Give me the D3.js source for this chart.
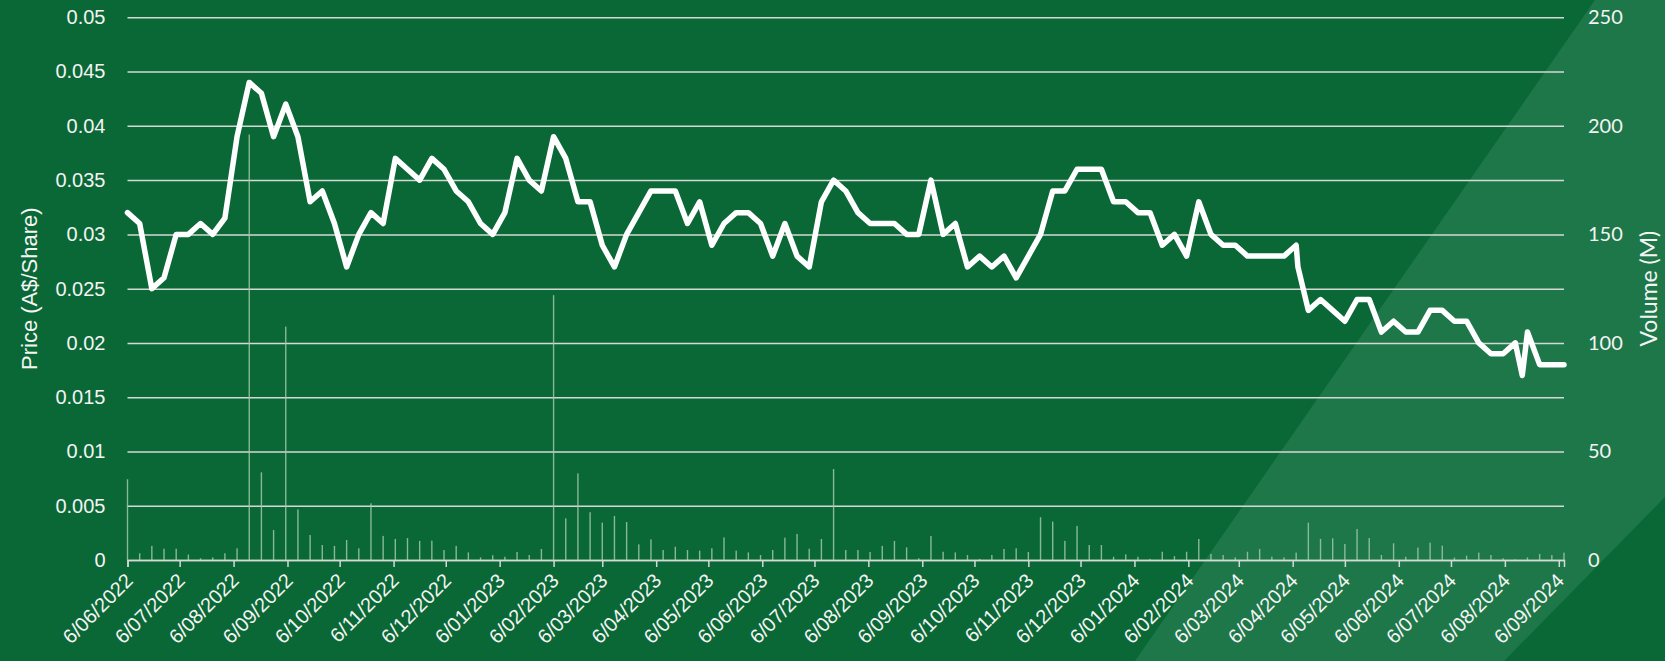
<!DOCTYPE html>
<html>
<head>
<meta charset="utf-8">
<script src="https://cdn.jsdelivr.net/npm/d3@7"></script>
<style>
  body { margin: 0; background: #0a6836; }
  svg { display: block; }
</style>
</head>
<body>
<svg id="chart" width="1665" height="661"></svg>
<script>
// weekly closes, plus two intra-week points (2024-04-09, 2024-08-16)
const dates = [
  "2022-06-06","2022-06-13","2022-06-20","2022-06-27","2022-07-04","2022-07-11","2022-07-18","2022-07-25",
  "2022-08-01","2022-08-08","2022-08-15","2022-08-22","2022-08-29","2022-09-05","2022-09-12","2022-09-19",
  "2022-09-26","2022-10-03","2022-10-10","2022-10-17","2022-10-24","2022-10-31","2022-11-07","2022-11-14",
  "2022-11-21","2022-11-28","2022-12-05","2022-12-12","2022-12-19","2022-12-26","2023-01-02","2023-01-09",
  "2023-01-16","2023-01-23","2023-01-30","2023-02-06","2023-02-13","2023-02-20","2023-02-27","2023-03-06",
  "2023-03-13","2023-03-20","2023-03-27","2023-04-03","2023-04-10","2023-04-17","2023-04-24","2023-05-01",
  "2023-05-08","2023-05-15","2023-05-22","2023-05-29","2023-06-05","2023-06-12","2023-06-19","2023-06-26",
  "2023-07-03","2023-07-10","2023-07-17","2023-07-24","2023-07-31","2023-08-07","2023-08-14","2023-08-21",
  "2023-08-28","2023-09-04","2023-09-11","2023-09-18","2023-09-25","2023-10-02","2023-10-09","2023-10-16",
  "2023-10-23","2023-10-30","2023-11-06","2023-11-13","2023-11-20","2023-11-27","2023-12-04","2023-12-11",
  "2023-12-18","2023-12-25","2024-01-01","2024-01-08","2024-01-15","2024-01-22","2024-01-29","2024-02-05",
  "2024-02-12","2024-02-19","2024-02-26","2024-03-04","2024-03-11","2024-03-18","2024-03-25","2024-04-01",
  "2024-04-08","2024-04-09","2024-04-15","2024-04-22","2024-04-29","2024-05-06","2024-05-13","2024-05-20",
  "2024-05-27","2024-06-03","2024-06-10","2024-06-17","2024-06-24","2024-07-01","2024-07-08","2024-07-15",
  "2024-07-22","2024-07-29","2024-08-05","2024-08-12","2024-08-16","2024-08-19","2024-08-26","2024-09-02",
  "2024-09-09"
];

const prices = [
  0.032,0.031,0.025,0.026,0.030,0.030,0.031,0.030,
  0.0315,0.039,0.044,0.043,0.039,0.042,0.039,0.033,
  0.034,0.031,0.027,0.030,0.032,0.031,0.037,0.036,
  0.035,0.037,0.036,0.034,0.033,0.031,0.030,0.032,
  0.037,0.035,0.034,0.039,0.037,0.033,0.033,0.029,
  0.027,0.030,0.032,0.034,0.034,0.034,0.031,0.033,
  0.029,0.031,0.032,0.032,0.031,0.028,0.031,0.028,
  0.027,0.033,0.035,0.034,0.032,0.031,0.031,0.031,
  0.030,0.030,0.035,0.030,0.031,0.027,0.028,0.027,
  0.028,0.026,0.028,0.030,0.034,0.034,0.036,0.036,
  0.036,0.033,0.033,0.032,0.032,0.029,0.030,0.028,
  0.033,0.030,0.029,0.029,0.028,0.028,0.028,0.028,
  0.029,0.027,0.023,0.024,0.023,0.022,0.024,0.024,
  0.021,0.022,0.021,0.021,0.023,0.023,0.022,0.022,
  0.020,0.019,0.019,0.020,0.017,0.021,0.018,0.018,
  0.018
];

// volume in millions of shares
const volumes = [
  37.2,3.1,6.5,5.2,5.2,2.5,0.8,1.2,
  3.1,5.4,196,40.4,13.8,107.5,23.3,11.5,
  6.9,6.5,9.2,5.4,26.1,11.1,9.7,10.1,
  8.8,8.9,4.6,6.5,3.5,1.2,2.2,1.5,
  3.7,2.3,5.1,122,19.2,39.9,22.0,17.2,
  20.3,17.5,7.2,9.5,4.6,6.1,4.6,4.3,
  5.4,10.4,4.3,3.5,2.3,4.6,10.3,12.0,
  5.2,9.7,41.9,4.6,4.6,3.7,6.5,8.8,
  5.8,0.8,11.1,3.8,3.5,2.3,0.5,2.3,
  5.1,5.4,3.7,19.7,17.7,8.8,15.7,6.9,
  6.9,1.5,2.6,1.5,0.5,3.8,1.8,3.8,
  9.7,2.8,2.3,1.2,3.8,5.1,1.5,1.2,
  3.4,0,17.2,9.7,10.0,7.4,14.3,10.1,
  2.3,7.7,1.5,5.7,8.0,6.6,1.1,2.0,
  3.4,2.3,0.8,0.3,0,1.2,2.8,2.3,
  3.4
];

const priceTicks = [0, 0.005, 0.01, 0.015, 0.02, 0.025, 0.03, 0.035, 0.04, 0.045, 0.05];
const volumeTicks = [0, 50, 100, 150, 200, 250];
const dateTickLabels = [
  "6/06/2022","6/07/2022","6/08/2022","6/09/2022","6/10/2022","6/11/2022","6/12/2022",
  "6/01/2023","6/02/2023","6/03/2023","6/04/2023","6/05/2023","6/06/2023","6/07/2023",
  "6/08/2023","6/09/2023","6/10/2023","6/11/2023","6/12/2023","6/01/2024","6/02/2024",
  "6/03/2024","6/04/2024","6/05/2024","6/06/2024","6/07/2024","6/08/2024","6/09/2024"
];

const parseISO = d3.timeParse("%Y-%m-%d");
const parseTick = d3.timeParse("%-d/%m/%Y");
const formatTick = d3.timeFormat("%-d/%m/%Y");

const rows = dates.map((d, i) => ({ date: parseISO(d), price: prices[i], volume: volumes[i] }));
const tickDates = dateTickLabels.map(parseTick);

const W = 1665, H = 661;
const plotLeft = 127.5, plotRight = 1564, plotTop = 17.3, plotBottom = 560;

const svg = d3.select("#chart");

const x = d3.scaleTime()
    .domain(d3.extent(rows, d => d.date))
    .range([plotLeft, plotRight]);
const yPrice = d3.scaleLinear().domain([0, 0.05]).range([plotBottom, plotTop]);
const yVol = d3.scaleLinear().domain([0, 250]).range([plotBottom, plotTop]);

// background + lighter diagonal band
svg.append("rect")
    .attr("width", W)
    .attr("height", H)
    .attr("fill", "#0a6836");
svg.append("path")
    .attr("d", "M1595,0 L1665,0 L1665,497 L1504,661 L1135,661 Z")
    .attr("fill", "#1d7749");

// left axis with gridlines
const leftAxis = svg.append("g")
    .attr("transform", `translate(${plotLeft},0)`)
    .call(d3.axisLeft(yPrice)
        .tickValues(priceTicks)
        .tickSize(-(plotRight - plotLeft))
        .tickPadding(22)
        .tickFormat(d => String(+d.toFixed(3))));
leftAxis.select(".domain").remove();
leftAxis.selectAll(".tick line")
    .attr("stroke", "#d4d9d6")
    .attr("stroke-width", 1.5);
leftAxis.selectAll(".tick text")
    .attr("fill", "#f4f4f4")
    .style("font-family", "'Liberation Sans', Arial, sans-serif")
    .style("font-size", "20px");

// right axis
const rightAxis = svg.append("g")
    .attr("transform", `translate(${plotRight},0)`)
    .call(d3.axisRight(yVol)
        .tickValues(volumeTicks)
        .tickSize(0)
        .tickPadding(24));
rightAxis.select(".domain").remove();
rightAxis.selectAll(".tick text")
    .attr("fill", "#f4f4f4")
    .style("font-family", "Lato, sans-serif")
    .style("font-size", "20px");

// volume bars
svg.append("g")
    .selectAll("rect")
    .data(rows)
    .join("rect")
    .attr("x", d => x(d.date) - 0.7)
    .attr("width", 1.4)
    .attr("y", d => yVol(d.volume))
    .attr("height", d => yVol(0) - yVol(d.volume))
    .attr("fill", "#a6cdab")
    .attr("opacity", 0.8);

// bottom axis
const bottomAxis = svg.append("g")
    .attr("transform", `translate(0,${plotBottom})`)
    .call(d3.axisBottom(x)
        .tickValues(tickDates)
        .tickSize(7)
        .tickFormat(formatTick));
bottomAxis.select(".domain")
    .attr("stroke", "#d4d9d6")
    .attr("stroke-width", 1.5);
bottomAxis.selectAll(".tick line")
    .attr("stroke", "#d4d9d6")
    .attr("stroke-width", 1.5);
bottomAxis.selectAll(".tick text")
    .attr("x", 0)
    .attr("y", 0)
    .attr("dy", 0)
    .attr("transform", "translate(6,22) rotate(-45)")
    .style("text-anchor", "end")
    .attr("fill", "#f4f4f4")
    .style("font-family", "'Liberation Sans', Arial, sans-serif")
    .style("font-size", "20px");

// price line
const line = d3.line()
    .x(d => x(d.date))
    .y(d => yPrice(d.price));
svg.append("path")
    .datum(rows)
    .attr("d", line)
    .attr("fill", "none")
    .attr("stroke", "#ffffff")
    .attr("stroke-width", 5.5)
    .attr("stroke-linejoin", "round")
    .attr("stroke-linecap", "round");

// axis titles
svg.append("text")
    .attr("transform", `translate(37,${(plotTop + plotBottom) / 2}) rotate(-90)`)
    .attr("text-anchor", "middle")
    .attr("fill", "#f4f4f4")
    .style("font-family", "'Liberation Sans', Arial, sans-serif")
    .style("font-size", "22px")
    .text("Price (A$/Share)");

svg.append("text")
    .attr("transform", `translate(1657,${(plotTop + plotBottom) / 2}) rotate(-90)`)
    .attr("text-anchor", "middle")
    .attr("fill", "#f4f4f4")
    .style("font-family", "Lato, sans-serif")
    .style("font-size", "23px")
    .text("Volume (M)");
</script>
</body>
</html>
